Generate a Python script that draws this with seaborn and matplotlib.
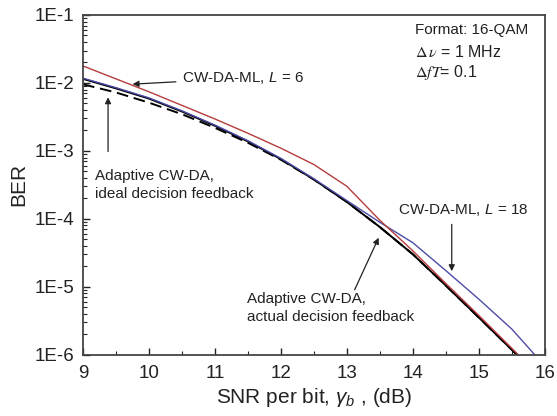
import numpy as np
import pandas as pd
import matplotlib
matplotlib.use("Agg")
import matplotlib.pyplot as plt
import seaborn as sns

# ---- data (log10 BER) ----
snr_red = [9, 9.5, 10, 10.5, 11, 11.5, 12, 12.5, 13, 13.5, 14, 14.5, 15, 15.6]
ber_red_log = [-1.75, -1.94, -2.13, -2.33, -2.53, -2.74, -2.96, -3.20, -3.52, -4.02, -4.47, -4.95, -5.42, -6.0]

snr_black = [9, 9.5, 10, 10.5, 11, 11.5, 12, 12.5, 13, 13.5, 14, 14.5, 15, 15.58]
ber_black_log = [-1.94, -2.08, -2.23, -2.42, -2.63, -2.86, -3.12, -3.42, -3.75, -4.12, -4.52, -4.98, -5.45, -6.0]

snr_dash = [9, 9.5, 10, 10.5, 11, 11.5, 12, 12.5, 13, 13.5, 14, 14.5, 15, 15.58]
ber_dash_log = [-2.02, -2.14, -2.29, -2.46, -2.66, -2.88, -3.13, -3.42, -3.75, -4.12, -4.52, -4.98, -5.45, -6.0]

snr_blue = [9, 9.5, 10, 10.5, 11, 11.5, 12, 12.5, 13, 13.5, 14, 14.5, 15, 15.5, 15.85]
ber_blue_log = [-1.93, -2.07, -2.22, -2.41, -2.62, -2.85, -3.11, -3.41, -3.73, -4.05, -4.35, -4.76, -5.18, -5.62, -6.0]

y_ticks = [1e-6, 1e-5, 1e-4, 1e-3, 1e-2, 1e-1]
y_labels = ["1E-6", "1E-5", "1E-4", "1E-3", "1E-2", "1E-1"]
x_ticks = [9, 10, 11, 12, 13, 14, 15, 16]

sns.set_style("ticks")
plt.rcParams['font.family'] = ['Liberation Sans', 'DejaVu Sans']
plt.rcParams['mathtext.fontset'] = 'custom'
plt.rcParams['mathtext.rm'] = 'Liberation Sans'
plt.rcParams['mathtext.it'] = 'Liberation Sans:italic'

TXT = "#222222"
fig = plt.figure(figsize=(5.57, 4.16), dpi=100)
ax = fig.add_axes([0.149, 0.147, 0.829, 0.817])

def draw(x, ylog, color, ls="-", lw=1.1):
    df = pd.DataFrame({"snr": x, "ber": 10.0 ** np.array(ylog)})
    sns.lineplot(data=df, x="snr", y="ber", ax=ax, color=color, linestyle=ls, linewidth=lw)

draw(snr_dash, ber_dash_log, "black", ls=(0, (6, 3)), lw=1.4)
draw(snr_black, ber_black_log, "black", lw=1.4)
draw(snr_blue, ber_blue_log, "#4c4ca8", lw=1.0)
draw(snr_red, ber_red_log, "#b53c3c", lw=1.0)

ax.set_yscale("log")
ax.set_xlim(9, 16)
ax.set_ylim(1e-6, 1e-1)
ax.set_yticks(y_ticks)
ax.set_yticklabels(y_labels)
ax.set_xticks(x_ticks)
ax.set_xticks(np.arange(9.5, 16, 1.0), minor=True)
ax.yaxis.set_minor_locator(matplotlib.ticker.LogLocator(base=10, subs=np.arange(2, 10), numticks=20))
ax.yaxis.set_minor_formatter(matplotlib.ticker.NullFormatter())
ax.tick_params(axis="both", which="major", direction="in", length=5, width=1, labelsize=13.5, colors=TXT)
ax.tick_params(axis="both", which="minor", direction="in", length=3, width=0.8)
ax.tick_params(axis="x", which="major", pad=7)
ax.tick_params(axis="y", which="major", pad=6)
for s in ax.spines.values():
    s.set_visible(True)
    s.set_linewidth(1.3)
    s.set_color("#444444")

ax.set_xlabel(r"SNR per bit, $\gamma_b$ , (dB)", fontsize=15, labelpad=3, color=TXT)
ax.set_ylabel("BER", fontsize=15, labelpad=5, color=TXT)

fs = 11
ann = dict(arrowstyle="-|>", color=TXT, lw=0.9, mutation_scale=9)
ax.annotate(r"CW-DA-ML, $L$ = 6", xy=(9.71, 10**-2.02), xytext=(10.5, 10**-1.93),
            fontsize=fs, va="center", ha="left", arrowprops=ann, color=TXT)
ax.annotate("", xy=(9.38, 10**-2.17), xytext=(9.38, 10**-3.05), arrowprops=ann)
ax.text(9.18, 10**-3.5, "Adaptive CW-DA,\nideal decision feedback", fontsize=fs,
        va="center", ha="left", linespacing=1.3, color=TXT)
ax.text(13.77, 10**-3.87, r"CW-DA-ML, $L$ = 18", fontsize=fs, va="center", ha="left", color=TXT)
ax.annotate("", xy=(14.59, 10**-4.81), xytext=(14.59, 10**-4.04), arrowprops=ann)
ax.annotate("", xy=(13.5, 10**-4.24), xytext=(13.1, 10**-5.08), arrowprops=ann)
ax.text(11.48, 10**-5.31, "Adaptive CW-DA,\nactual decision feedback", fontsize=fs,
        va="center", ha="left", linespacing=1.3, color=TXT)
ax.text(14.03, 10**-1.22, "Format: 16-QAM", fontsize=fs, va="center", ha="left", color=TXT)
ax.text(14.03, 10**-1.545, r"$\Delta\,\nu$ = 1 MHz", fontsize=11.5, va="center", ha="left",
        color=TXT, math_fontfamily="stix")
ax.text(14.03, 10**-1.84, r"$\Delta fT$= 0.1", fontsize=11.5, va="center", ha="left",
        color=TXT, math_fontfamily="stix")

fig.savefig("out.png", dpi=100)
